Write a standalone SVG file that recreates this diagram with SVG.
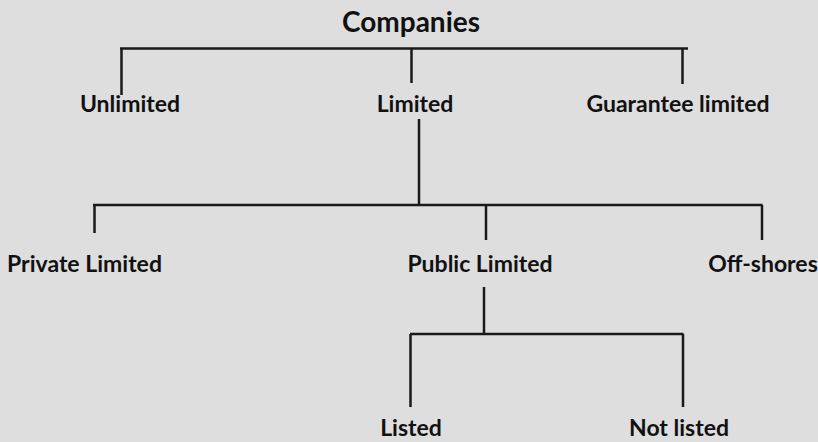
<svg xmlns="http://www.w3.org/2000/svg" width="818" height="442" viewBox="0 0 818 442">
<style>
text{font-family:Lato,"Open Sans","Liberation Sans",sans-serif;font-weight:bold;font-size:23px;fill:#111;text-anchor:middle}
.t{font-size:28px}
.c path{fill:none;stroke:#1a1a1a;stroke-width:2.5}
</style>
<rect width="818" height="442" fill="#dedede"/>
<g class="c" id="connectors">
<path d="M120,48.5H688M121.5,48.5V95M411.5,48.5V83M682.5,48.5V84"/>
<path d="M419,119V205"/>
<path d="M93,205H762.5M94.5,205V233M486,205V240M762,205V240"/>
<path d="M484,287V334"/>
<path d="M410,334H683.5M410.5,334V407M683,334V407"/>
</g>
<g id="companies"><text class="t" x="411" y="32">Companies</text></g>
<g id="unlimited"><text x="130" y="112">Unlimited</text></g>
<g id="limited"><text x="415" y="112">Limited</text></g>
<g id="guarantee"><text x="678" y="112">Guarantee limited</text></g>
<g id="private"><text x="84.5" y="272">Private Limited</text></g>
<g id="public"><text x="480" y="272">Public Limited</text></g>
<g id="offshores"><text x="763" y="272">Off-shores</text></g>
<g id="listed"><text x="411" y="436">Listed</text></g>
<g id="notlisted"><text x="679" y="436">Not listed</text></g>
</svg>
